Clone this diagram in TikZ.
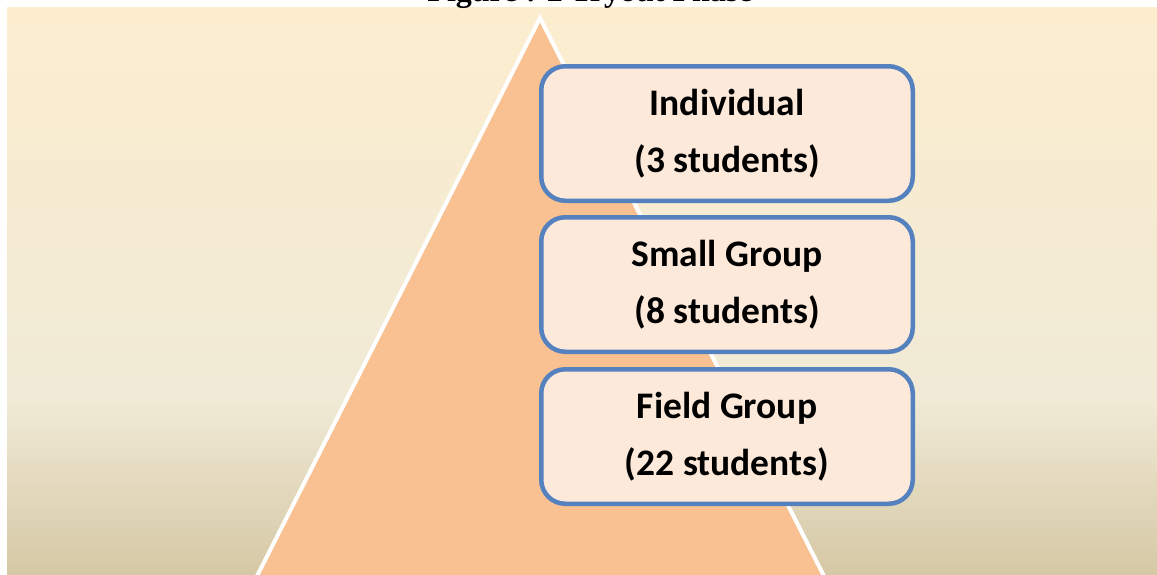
\documentclass[tikz,border=0pt]{standalone}
\usepackage{fontspec}
\setmainfont{Carlito}
\newfontfamily\titlefont{Liberation Serif}
\usetikzlibrary{positioning}
\definecolor{bgtop}{HTML}{FCEDCF}
\definecolor{bgmid}{HTML}{F0EAD6}
\definecolor{bgbot}{HTML}{D5C8A5}
\definecolor{pyramid}{HTML}{F9C191}
\definecolor{boxfill}{HTML}{FDE9DA}
\definecolor{boxline}{HTML}{5582BE}
\tikzset{%
  phasebox/.style={%
    draw=boxline,
    line width=4.5pt,
    fill=boxfill,
    rounded corners=24pt,
    minimum width=371.5pt,
    minimum height=134.5pt,
    align=center,
    font=\fontsize{37.5}{57}\selectfont\bfseries%
  },
  caption/.style={%
    font=\titlefont\fontsize{32}{36}\selectfont\bfseries,
    anchor=base,
    inner sep=0pt%
  }
}

\begin{document}
\begin{tikzpicture}[x=1pt,y=-1pt]
  \useasboundingbox (0,0) rectangle (1157,574);
  % background
  \shade[top color=bgtop, bottom color=bgmid] (7,7) rectangle (1157,400);
  \shade[top color=bgmid, bottom color=bgbot] (7,399.5) rectangle (1157,574);
  \node[caption] (title) at (590,1.5) {Figure : 2 Tryout Phase};
  % pyramid
  \coordinate (apex) at (540,18);
  \coordinate (baseL) at (255,580);
  \coordinate (baseR) at (826,580);
  \draw[white, line width=4pt, fill=pyramid] (apex) -- (baseR) -- (baseL) -- cycle;
  % phases
  \node[phasebox]                   (indiv) at (727,133.5) {Individual\\(3 students)};
  \node[phasebox, below=12pt of indiv] (small) {Small Group\\(8 students)};
  \node[phasebox, below=13pt of small] (field) {Field Group\\(22 students)};
\end{tikzpicture}
\end{document}
